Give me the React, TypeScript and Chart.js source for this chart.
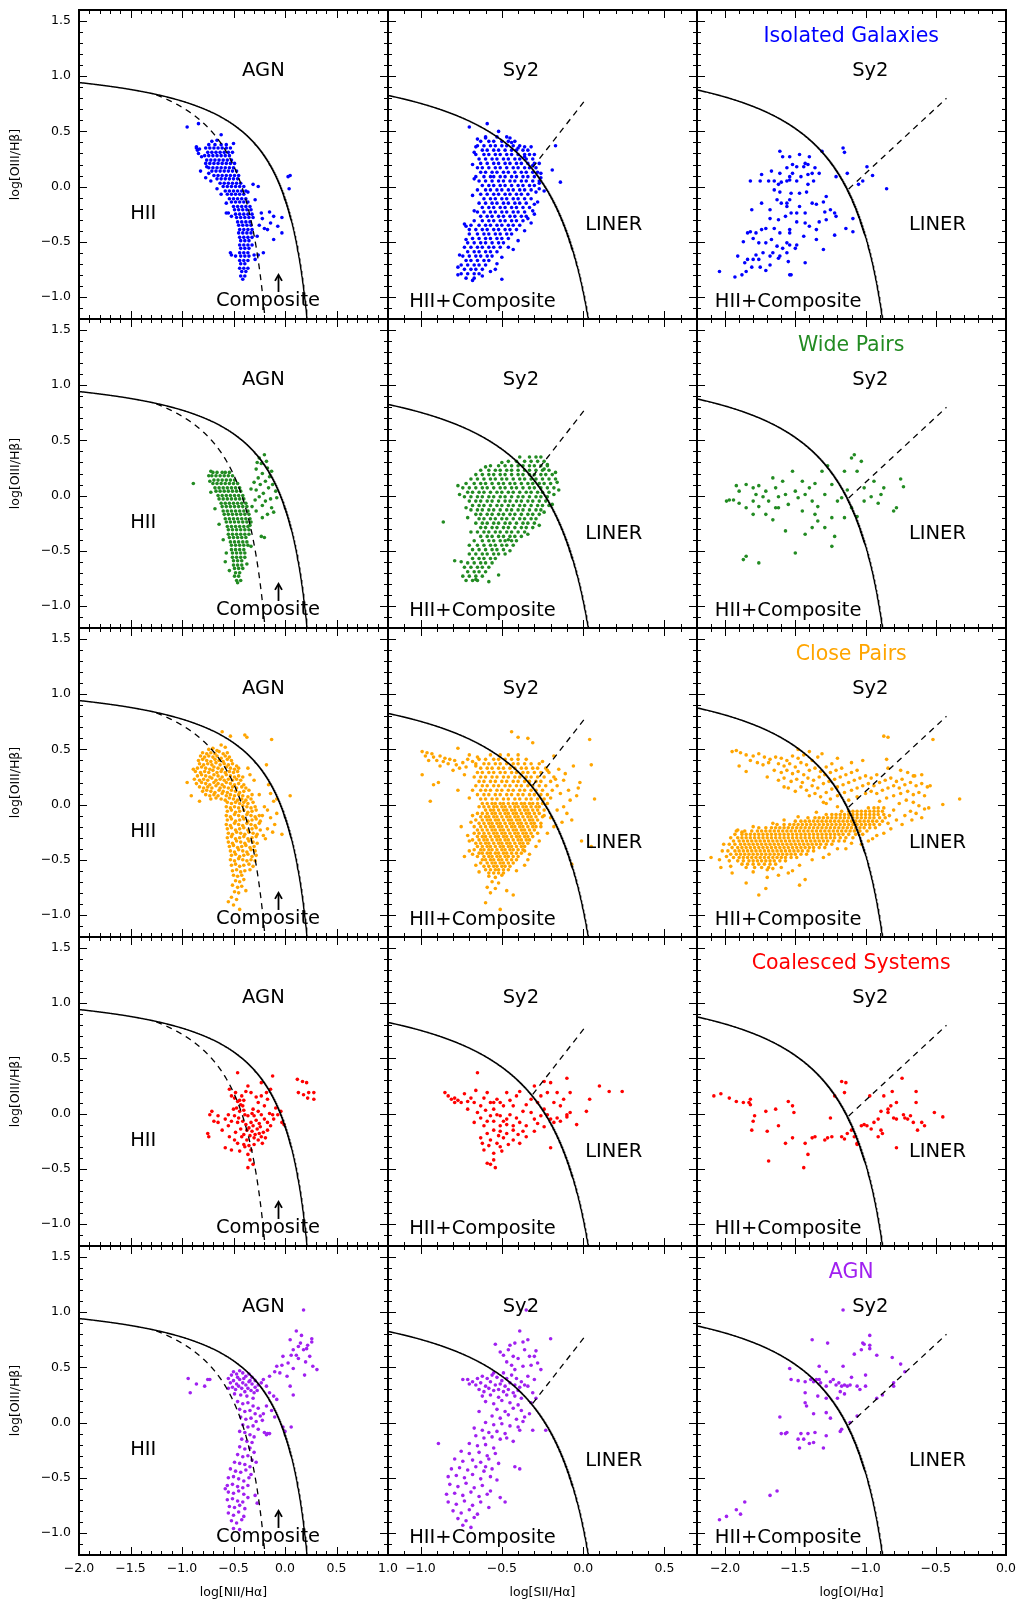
import React, { useEffect, useRef } from 'react';
import { Chart, registerables } from 'chart.js';

Chart.register(...registerables);

// Emission-line ratios.
// *Pts arrays: flat [log x-ratio, log([OIII]/Hb)] pairs in dex.
// *Rows arrays: densely populated strips, [y, x1, x2, ...] in units of 0.01 dex.

// Isolated galaxies
const isoNIIRows = [
  [38,-74,-68,-62,-57], [35,-77,-73,-69,-65,-61,-57,-53], [31,-75,-71,-67,-63,-59,-55,-51],
  [28,-78,-74,-70,-66,-62,-58,-54], [24,-76,-72,-68,-64,-60,-56,-52], [21,-77,-73,-69,-65,-61,-57,-53,-49],
  [17,-74,-70,-66,-62,-58,-54,-50], [14,-71,-67,-63,-59,-55,-51,-47], [10,-69,-65,-61,-57,-53,-49,-45],
  [7,-66,-62,-58,-54,-50,-46], [3,-63,-59,-55,-51,-47,-43], [0,-60,-56,-52,-48,-44,-40],
  [-4,-58,-54,-50,-46,-42,-38], [-7,-56,-52,-48,-44,-40], [-11,-54,-50,-46,-42,-38],
  [-14,-52,-48,-44,-40,-36], [-18,-50,-46,-42,-38,-34], [-21,-49,-45,-41,-37,-33],
  [-25,-48,-44,-40,-36,-32], [-28,-47,-43,-39,-35,-31], [-32,-46,-42,-38,-34],
  [-35,-45,-41,-37,-33], [-39,-44,-40,-36,-32], [-42,-45,-41,-37,-33], [-46,-44,-40,-36,-32],
  [-49,-43,-39,-35], [-53,-44,-40,-36,-32], [-56,-43,-39,-35], [-60,-44,-40,-36], [-63,-43,-39,-35],
  [-67,-44,-40,-36], [-70,-43,-39], [-74,-44,-40,-36], [-77,-42,-38], [-81,-43,-39], [-84,-41],
];
const isoNIIPts = [
  -0.95,0.54, -0.84,0.57, -0.62,0.47, -0.50,0.39, -0.86,0.36, -0.83,0.34, -0.71,0.41, -0.66,0.42,
  -0.81,0.27, -0.84,0.30, -0.74,0.12, -0.72,0.05, -0.76,0.18, -0.62,-0.07, -0.57,-0.15, -0.66,-0.02,
  -0.36,-0.05, -0.52,-0.27, -0.55,-0.24, -0.52,-0.62, -0.30,-0.62,
  -0.31,0.02, -0.26,0.00, -0.29,-0.12, -0.23,-0.24, -0.15,-0.23, -0.11,-0.27, -0.03,-0.28, -0.03,-0.42, -0.11,-0.48, -0.17,-0.39,
  -0.20,-0.38, -0.22,-0.29, -0.21,-0.60, -0.26,-0.62, -0.29,-0.66, -0.27,-0.45, -0.25,-0.35, -0.07,-0.36, 0.03,0.09, 0.05,0.10,
  0.04,-0.02, -0.14,-0.33, -0.86,0.35, -0.85,0.33, -0.82,0.14, -0.77,0.08, -0.57,-0.24, -0.53,-0.60, -0.48,-0.63,
];
const isoSIIRows = [
  [45,-60,-53,-47], [41,-63,-58,-55,-50,-46,-42], [37,-65,-61,-57,-54,-50,-47,-43,-39],
  [33,-62,-59,-55,-52,-48,-44,-41,-37,-34], [29,-66,-61,-58,-54,-51,-47,-44,-40,-36,-33,-30],
  [25,-64,-60,-56,-53,-49,-46,-42,-39,-35,-31], [21,-63,-59,-55,-52,-48,-45,-41,-38,-34,-30,-27],
  [17,-65,-62,-58,-54,-51,-47,-43,-40,-36,-33,-29], [13,-63,-60,-56,-53,-49,-46,-42,-38,-35,-31,-28],
  [9,-66,-61,-57,-55,-51,-48,-44,-41,-37,-34,-30], [5,-64,-60,-56,-52,-49,-45,-42,-38,-35,-31,-27],
  [1,-62,-58,-55,-51,-48,-44,-40,-37,-33,-30], [-3,-65,-60,-57,-53,-50,-46,-43,-39,-36,-32],
  [-7,-63,-59,-55,-52,-48,-45,-41,-38,-34], [-11,-61,-57,-54,-50,-47,-43,-40,-36,-32],
  [-15,-64,-60,-56,-53,-49,-46,-42,-39,-35], [-19,-62,-58,-55,-51,-48,-44,-41,-37,-33],
  [-23,-65,-61,-57,-54,-50,-47,-43,-40,-36], [-27,-63,-59,-56,-52,-49,-45,-42,-38,-35],
  [-31,-67,-62,-58,-55,-51,-48,-44,-41,-37], [-35,-69,-64,-60,-57,-53,-50,-46,-43,-39],
  [-39,-66,-62,-59,-55,-52,-48,-45,-41], [-43,-70,-65,-61,-58,-54,-51,-47,-44],
  [-47,-68,-64,-60,-57,-53,-50,-46], [-51,-71,-67,-63,-60,-56,-52,-49],
  [-55,-73,-69,-65,-62,-58,-55,-51,-46], [-59,-71,-67,-64,-60,-57,-53], [-63,-74,-70,-66,-63,-59,-56],
  [-67,-72,-69,-65,-61,-58], [-71,-75,-71,-67,-64,-60], [-75,-73,-69,-66,-62], [-79,-75,-71,-67,-64],
  [-83,-72,-67],
];
const isoSIIPts = [
  -0.70,0.54, -0.59,0.57, -0.52,0.50, -0.65,0.43, -0.45,0.44, -0.36,0.36, -0.32,0.36, -0.17,0.37,
  -0.19,0.15, -0.14,0.04, -0.26,0.08, -0.24,-0.04, -0.27,-0.02, -0.28,-0.14, -0.30,-0.25, -0.32,-0.33,
  -0.73,-0.34, -0.72,-0.36, -0.50,-0.84, -0.54,-0.75, -0.77,-0.80,
  -0.67,0.31, -0.60,0.44, -0.44,0.40, -0.36,0.27, -0.31,0.19, -0.26,0.12, -0.27,0.03, -0.29,-0.05, -0.30,-0.16, -0.31,-0.22,
  -0.34,-0.29, -0.36,-0.40, -0.40,-0.49, -0.43,-0.57, -0.50,-0.64, -0.53,-0.70, -0.57,-0.77, -0.62,-0.81, -0.68,-0.85, -0.77,-0.73,
  -0.76,-0.62, -0.72,-0.48, -0.70,-0.39, -0.67,-0.22, -0.68,-0.08, -0.67,0.07, -0.68,0.20, -0.66,0.36, -0.40,0.35,
];
const isoOIPts = [
  -1.61,0.32, -1.59,0.27, -1.54,0.27, -1.47,0.29, -1.43,0.21, -1.44,0.18, -1.52,0.20, -1.56,0.17, -1.61,0.12, -1.67,0.14,
  -1.74,0.11, -1.75,0.05, -1.82,0.05, -1.69,0.05, -1.65,0.05, -1.62,0.02, -1.60,0.04, -1.56,0.05, -1.54,0.06, -1.49,0.05,
  -1.46,0.09, -1.41,0.11, -1.36,0.17, -1.37,0.05, -1.41,0.02, -1.42,-0.05, -1.47,-0.06, -1.53,-0.06, -1.54,-0.12, -1.56,-0.15,
  -1.61,-0.05, -1.65,-0.03, -1.63,-0.12, -1.68,-0.21, -1.74,-0.15, -1.81,-0.21, -1.68,-0.29, -1.62,-0.30, -1.57,-0.27, -1.53,-0.24,
  -1.49,-0.24, -1.43,-0.24, -1.38,-0.15, -1.35,-0.16, -1.30,-0.14, -1.29,-0.23, -1.25,-0.21, -1.28,-0.30, -1.33,-0.32, -1.40,-0.36,
  -1.43,-0.33, -1.49,-0.32, -1.54,-0.39, -1.61,-0.42, -1.65,-0.38, -1.71,-0.38, -1.74,-0.39, -1.82,-0.41, -1.84,-0.42, -1.78,-0.42,
  -1.87,-0.50, -1.80,-0.47, -1.76,-0.51, -1.71,-0.51, -1.67,-0.48, -1.63,-0.54, -1.59,-0.56, -1.54,-0.53, -1.49,-0.53, -1.50,-0.56,
  -1.44,-0.45, -1.35,-0.39, -1.35,-0.48, -1.66,-0.60, -1.61,-0.63, -1.56,-0.60, -1.55,-0.68, -1.62,-0.65, -1.68,-0.63, -1.73,-0.60,
  -1.78,-0.62, -1.76,-0.66, -1.80,-0.66, -1.84,-0.66, -1.86,-0.69, -1.91,-0.63, -1.81,-0.73, -1.75,-0.73, -1.71,-0.76, -1.68,-0.71,
  -1.85,-0.77, -1.88,-0.80, -1.93,-0.82, -1.54,-0.80, -1.53,-0.80, -1.43,-0.69, -1.30,-0.57, -1.22,-0.44, -1.14,-0.38, -1.09,-0.41,
  -1.09,-0.29, -1.21,-0.27, -1.54,-0.42, -1.56,-0.51, -1.47,-0.18, -1.56,-0.18, -1.60,-0.15,
  -2.04,-0.77, -1.16,0.35, -1.15,0.31, -1.31,0.32, -1.21,0.09, -1.13,0.12, -1.05,0.02, -1.02,0.05, -0.99,0.18, -0.95,0.10,
  -0.85,-0.02, -1.22,-0.24, -1.28,-0.09, -1.49,0.18, -1.41,0.20, -1.38,0.12, -1.52,0.12, -1.33,0.12, -1.40,0.27, -1.54,0.09,
];

// Wide pairs
const widNIIRows = [
  [21,-70,-66,-61,-58,-54], [18,-71,-67,-63,-59,-55,-51], [14,-69,-65,-61,-57,-53,-49],
  [11,-70,-66,-62,-58,-54,-50,-46], [7,-68,-64,-60,-56,-52,-48,-44], [4,-67,-63,-59,-55,-51,-47,-43],
  [0,-65,-61,-57,-53,-49,-45,-41], [-3,-64,-60,-56,-52,-48,-44,-40], [-7,-62,-58,-54,-50,-46,-42,-38],
  [-10,-61,-57,-53,-49,-45,-41,-37], [-14,-60,-56,-52,-48,-44,-40,-36], [-17,-59,-55,-51,-47,-43,-39,-35],
  [-21,-58,-54,-50,-46,-42,-38,-34], [-24,-57,-53,-49,-45,-41,-37,-33], [-28,-56,-52,-48,-44,-40,-36],
  [-31,-55,-51,-47,-43,-39,-35], [-35,-55,-51,-47,-43,-39,-35], [-38,-54,-50,-46,-42,-38],
  [-42,-53,-49,-45,-41,-37], [-45,-52,-48,-44,-40,-36], [-49,-52,-48,-44,-40], [-52,-51,-47,-43,-39],
  [-56,-51,-47,-43,-39], [-59,-50,-46,-42], [-63,-50,-46,-42], [-66,-49,-45,-41], [-70,-48,-44],
  [-73,-49,-45], [-77,-47,-43],
];
const widNIIPts = [
  -0.25,0.34, -0.20,0.37, -0.18,0.31, -0.23,0.29, -0.28,0.24, -0.13,0.22, -0.17,0.25, -0.22,0.20, -0.26,0.16, -0.15,0.17,
  -0.19,0.13, -0.30,0.12, -0.24,0.10, -0.16,0.07, -0.09,0.04, -0.33,0.06, -0.28,0.05, -0.21,0.02, -0.25,-0.01, -0.19,-0.05,
  -0.14,-0.03, -0.29,-0.04, -0.13,-0.11, -0.22,-0.09, -0.28,-0.14, -0.17,-0.17, -0.11,-0.15, -0.22,-0.20, -0.32,-0.10, -0.08,-0.02,
  -0.12,0.10, -0.27,0.30, -0.89,0.11, -0.72,0.22, -0.23,-0.37, -0.20,-0.38, -0.74,0.18, -0.58,-0.60, -0.46,-0.79,
  -0.73,0.13, -0.72,0.03, -0.68,-0.12, -0.64,-0.26, -0.60,-0.40, -0.57,-0.52, -0.54,-0.68, -0.34,-0.27, -0.33,-0.46, -0.37,-0.62,
];
const widSIIRows = [
  [35,-39,-33,-29,-26], [31,-46,-41,-36,-32,-28,-24], [27,-57,-52,-48,-44,-40,-37,-33,-30,-26,-22],
  [23,-63,-58,-54,-51,-47,-44,-40,-36,-33,-29,-25,-21],
  [19,-66,-62,-58,-55,-51,-48,-44,-40,-37,-33,-30,-26,-23,-19],
  [15,-69,-65,-61,-57,-54,-50,-47,-43,-39,-36,-32,-29,-25,-21,-17],
  [11,-72,-67,-63,-60,-56,-52,-49,-45,-42,-38,-34,-31,-27,-24,-20],
  [7,-74,-70,-66,-62,-59,-55,-51,-48,-44,-41,-37,-33,-30,-26,-22,-18],
  [3,-71,-68,-64,-61,-57,-53,-50,-46,-43,-39,-35,-32,-28,-25,-21],
  [-1,-73,-69,-65,-62,-58,-55,-51,-48,-44,-40,-37,-33,-29,-26,-22],
  [-5,-70,-66,-63,-59,-56,-52,-48,-45,-41,-38,-34,-31,-27,-23],
  [-9,-68,-64,-61,-57,-53,-50,-46,-43,-39,-36,-32,-28,-25,-21],
  [-13,-69,-65,-62,-58,-55,-51,-47,-44,-40,-37,-33,-29,-26],
  [-17,-66,-63,-59,-56,-52,-49,-45,-42,-38,-34,-31,-27],
  [-21,-64,-61,-57,-54,-50,-47,-43,-39,-36,-32,-29],
  [-25,-66,-62,-59,-55,-52,-48,-45,-41,-37,-34,-30],
  [-29,-63,-60,-56,-53,-49,-46,-42,-38,-35,-31],
  [-33,-65,-61,-58,-54,-51,-47,-44,-40,-36], [-37,-63,-59,-56,-52,-49,-45,-42,-38],
  [-41,-67,-62,-58,-55,-51,-48,-44,-41], [-45,-65,-61,-57,-54,-50,-47,-43],
  [-49,-68,-64,-60,-56,-53,-49], [-53,-70,-66,-62,-59,-55,-52,-48], [-57,-68,-64,-61,-57,-54],
  [-61,-71,-67,-63,-60,-56], [-65,-73,-69,-65,-62,-58], [-69,-71,-67,-64,-60], [-73,-74,-70,-66,-62],
  [-77,-72,-68,-65],
];
const widSIIPts = [
  -0.22,0.28, -0.24,0.24, -0.17,0.21, -0.16,0.12, -0.15,0.05, -0.75,-0.60, -0.79,-0.59, -0.86,-0.24, -0.77,0.09, -0.76,0.01,
  -0.72,-0.11, -0.71,-0.20, -0.69,-0.33, -0.70,-0.45, -0.45,-0.50, -0.46,-0.40, -0.34,-0.35, -0.27,-0.27, -0.24,-0.15, -0.19,-0.08,
  -0.18,0.01, -0.60,0.26, -0.50,0.30, -0.52,-0.72, -0.58,-0.78, -0.66,-0.76,
];
const widOIPts = [
  -1.92,0.09, -1.85,0.10, -1.80,0.07, -1.76,0.09, -1.78,0.01, -1.94,-0.04, -1.90,-0.07, -1.85,-0.11, -1.80,-0.05, -1.73,-0.01,
  -1.71,0.04, -1.66,0.16, -1.64,0.07, -1.62,-0.01, -1.69,-0.05, -1.76,-0.10, -1.80,-0.17, -1.71,-0.17, -1.66,-0.22, -1.62,-0.11,
  -1.57,0.01, -1.52,0.22, -1.50,0.04, -1.48,-0.02, -1.55,-0.08, -1.45,-0.14, -1.43,0.01, -1.38,-0.05, -1.40,0.07, -1.57,-0.32,
  -1.43,-0.35, -1.50,-0.52, -1.85,-0.55, -1.87,-0.58, -1.76,-0.61, -1.36,-0.17, -1.34,-0.10, -1.29,0.01, -1.31,0.22, -1.27,0.27,
  -1.24,0.10, -1.20,-0.05, -1.24,-0.20, -1.29,-0.29, -1.22,-0.37, -1.24,-0.46, -1.17,-0.02, -1.13,0.05, -1.15,0.22, -1.10,0.34,
  -1.08,0.37, -1.03,0.31, -1.06,0.22, -1.01,0.07, -0.96,-0.01, -1.01,-0.05, -1.10,-0.11, -1.15,-0.20, -1.06,-0.19, -0.94,0.13,
  -0.89,0.01, -0.87,0.07, -0.75,0.15, -0.73,0.08, -0.78,-0.11, -0.80,-0.14, -0.91,-0.07, -1.64,-0.11, -1.59,0.13, -1.90,0.04,
  -1.97,-0.04, -1.99,-0.05, -1.36,0.11, -1.45,0.13, -1.38,-0.29, -1.34,-0.23,
];

// Close pairs
const clsNIIPts = [
  -0.74,0.50, -0.70,0.51, -0.66,0.49, -0.58,0.52, -0.62,0.54,
  -0.80,0.47, -0.76,0.46, -0.72,0.47, -0.68,0.46, -0.64,0.48, -0.60,0.46, -0.56,0.47,
  -0.82,0.44, -0.78,0.43, -0.74,0.44, -0.70,0.43, -0.66,0.44, -0.62,0.42, -0.58,0.44, -0.54,0.43,
  -0.84,0.40, -0.80,0.41, -0.76,0.40, -0.72,0.39, -0.68,0.41, -0.64,0.40, -0.60,0.39, -0.56,0.41, -0.52,0.40,
  -0.83,0.37, -0.79,0.36, -0.75,0.37, -0.71,0.36, -0.67,0.38, -0.63,0.36, -0.59,0.37, -0.55,0.36, -0.51,0.37, -0.47,0.35,
  -0.85,0.33, -0.81,0.34, -0.77,0.33, -0.73,0.32, -0.69,0.34, -0.65,0.33, -0.61,0.32, -0.57,0.34, -0.53,0.33, -0.49,0.32, -0.45,0.33,
  -0.87,0.30, -0.82,0.29, -0.78,0.30, -0.74,0.29, -0.70,0.31, -0.66,0.29, -0.62,0.30, -0.58,0.29, -0.54,0.30, -0.50,0.29, -0.46,0.30,
  -0.85,0.26, -0.81,0.27, -0.77,0.26, -0.73,0.25, -0.69,0.27, -0.65,0.26, -0.61,0.25, -0.57,0.27, -0.53,0.26, -0.49,0.25, -0.45,0.26, -0.41,0.25,
  -0.88,0.23, -0.83,0.22, -0.79,0.23, -0.75,0.22, -0.71,0.24, -0.67,0.22, -0.63,0.23, -0.59,0.22, -0.55,0.23, -0.51,0.22, -0.47,0.23, -0.43,0.22,
  -0.86,0.19, -0.81,0.20, -0.77,0.19, -0.73,0.18, -0.69,0.20, -0.65,0.19, -0.61,0.18, -0.57,0.20, -0.53,0.19, -0.49,0.18, -0.45,0.19, -0.40,0.18,
  -0.83,0.16, -0.79,0.15, -0.75,0.16, -0.71,0.15, -0.67,0.17, -0.63,0.15, -0.59,0.16, -0.55,0.15, -0.51,0.16, -0.47,0.15, -0.42,0.16, -0.38,0.15,
  -0.80,0.12, -0.76,0.13, -0.72,0.12, -0.68,0.11, -0.64,0.13, -0.60,0.12, -0.56,0.11, -0.52,0.13, -0.48,0.12, -0.44,0.11, -0.40,0.12, -0.35,0.13,
  -0.77,0.09, -0.73,0.08, -0.69,0.09, -0.65,0.08, -0.61,0.10, -0.57,0.08, -0.53,0.09, -0.49,0.08, -0.45,0.09, -0.41,0.08, -0.36,0.07, -0.32,0.09,
  -0.72,0.05, -0.67,0.06, -0.62,0.05, -0.58,0.04, -0.54,0.06, -0.50,0.05, -0.46,0.04, -0.42,0.05, -0.38,0.04, -0.33,0.05,
  -0.56,0.02, -0.52,0.01, -0.48,0.02, -0.44,0.01, -0.40,0.02, -0.36,0.01, -0.31,0.02,
  -0.57,-0.02, -0.53,-0.03, -0.49,-0.02, -0.45,-0.03, -0.41,-0.01, -0.37,-0.02, -0.33,-0.03, -0.29,-0.02,
  -0.56,-0.06, -0.52,-0.05, -0.48,-0.07, -0.44,-0.06, -0.40,-0.05, -0.36,-0.07, -0.32,-0.06, -0.28,-0.05,
  -0.57,-0.10, -0.53,-0.11, -0.49,-0.09, -0.45,-0.10, -0.41,-0.11, -0.37,-0.09, -0.33,-0.10, -0.29,-0.11, -0.25,-0.10,
  -0.56,-0.14, -0.52,-0.13, -0.48,-0.15, -0.44,-0.14, -0.40,-0.13, -0.36,-0.15, -0.32,-0.14, -0.28,-0.13, -0.24,-0.15,
  -0.57,-0.18, -0.53,-0.19, -0.49,-0.17, -0.45,-0.18, -0.41,-0.19, -0.37,-0.17, -0.33,-0.18, -0.29,-0.19, -0.25,-0.17,
  -0.56,-0.22, -0.52,-0.21, -0.48,-0.23, -0.44,-0.22, -0.40,-0.21, -0.36,-0.23, -0.32,-0.22, -0.28,-0.21, -0.24,-0.23,
  -0.55,-0.26, -0.51,-0.27, -0.47,-0.25, -0.43,-0.26, -0.39,-0.27, -0.35,-0.25, -0.31,-0.26, -0.27,-0.27,
  -0.56,-0.30, -0.52,-0.29, -0.48,-0.31, -0.44,-0.30, -0.40,-0.29, -0.36,-0.31, -0.32,-0.30, -0.28,-0.29,
  -0.55,-0.34, -0.51,-0.35, -0.47,-0.33, -0.43,-0.34, -0.39,-0.35, -0.35,-0.33, -0.31,-0.34, -0.27,-0.35,
  -0.54,-0.38, -0.50,-0.37, -0.46,-0.39, -0.42,-0.38, -0.38,-0.37, -0.34,-0.39, -0.30,-0.38,
  -0.53,-0.42, -0.49,-0.43, -0.45,-0.41, -0.41,-0.42, -0.37,-0.43, -0.33,-0.41, -0.29,-0.42,
  -0.52,-0.46, -0.48,-0.45, -0.44,-0.47, -0.40,-0.46, -0.36,-0.45, -0.32,-0.47, -0.28,-0.46,
  -0.53,-0.50, -0.49,-0.51, -0.45,-0.49, -0.41,-0.50, -0.37,-0.51, -0.33,-0.50, -0.29,-0.51,
  -0.52,-0.55, -0.48,-0.54, -0.44,-0.56, -0.40,-0.55, -0.35,-0.54, -0.31,-0.56,
  -0.51,-0.60, -0.47,-0.59, -0.43,-0.61, -0.39,-0.60, -0.34,-0.59,
  -0.50,-0.64, -0.46,-0.65, -0.42,-0.64, -0.48,-0.69, -0.44,-0.70, -0.40,-0.68, -0.51,-0.73, -0.46,-0.75, -0.42,-0.74, -0.49,-0.79,
  -0.45,-0.80, -0.52,-0.84, -0.47,-0.86, -0.50,-0.91, -0.44,-0.95, -0.55,-0.88, -0.38,-0.78,
  -0.61,0.66, -0.53,0.62, -0.39,0.63, -0.37,0.61, -0.13,0.59, -0.18,0.36, -0.16,0.18, -0.11,0.03, -0.08,0.05, -0.03,-0.27,
  0.05,0.08, -0.95,0.20, -0.91,0.08, -0.83,0.03, -0.20,-0.02, -0.22,-0.10, -0.17,-0.22, -0.14,0.10, -0.25,0.09, -0.30,0.22,
  -0.34,0.27, -0.36,0.33, -0.21,-0.28, -0.89,0.32, -0.17,-0.05, -0.14,-0.12, -0.10,-0.18, -0.12,-0.25, -0.19,-0.31, -0.08,-0.08,
];
const clsSIIRows = [
  [45,-57,-51,-46,-40], [41,-64,-60,-55,-52,-48,-44,-40,-35],
  [37,-66,-61,-58,-54,-51,-47,-43,-40,-36,-32,-27],
  [33,-63,-59,-56,-52,-49,-45,-42,-38,-35,-31,-28,-23],
  [29,-65,-62,-58,-55,-51,-48,-44,-41,-37,-34,-30,-26,-21],
  [25,-67,-63,-60,-56,-53,-49,-46,-42,-39,-35,-32,-28,-24,-18],
  [21,-64,-61,-57,-54,-50,-47,-43,-40,-36,-33,-29,-26,-20],
  [17,-66,-62,-59,-55,-52,-48,-45,-41,-38,-34,-31,-27,-23,-16],
  [13,-68,-63,-60,-57,-53,-50,-46,-43,-39,-36,-32,-29,-25,-19],
  [9,-65,-61,-58,-54,-51,-47,-44,-40,-37,-33,-30,-26,-22],
  [5,-63,-60,-56,-53,-49,-46,-42,-39,-35,-32,-28,-24],
  [1,-62,-59,-56,-54,-51,-49,-46,-43,-41,-38,-36,-33,-31,-28,-25,-22],
  [-2,-64,-61,-58,-55,-53,-50,-48,-45,-42,-40,-37,-35,-32,-29,-27],
  [-5,-60,-57,-55,-52,-49,-47,-44,-42,-39,-36,-34,-31,-28,-24],
  [-8,-65,-62,-59,-56,-54,-51,-48,-46,-43,-41,-38,-35,-33,-30,-27],
  [-11,-63,-60,-58,-55,-53,-50,-47,-45,-42,-40,-37,-34,-32,-29,-25],
  [-14,-66,-62,-59,-57,-54,-52,-49,-46,-44,-41,-39,-36,-33,-31,-28],
  [-17,-64,-61,-58,-56,-53,-51,-48,-45,-43,-40,-38,-35,-32,-30,-26],
  [-20,-67,-63,-60,-57,-55,-52,-50,-47,-44,-42,-39,-37,-34,-31,-29],
  [-23,-65,-62,-59,-56,-54,-51,-49,-46,-43,-41,-38,-36,-33,-30],
  [-26,-67,-64,-61,-58,-55,-53,-50,-48,-45,-42,-40,-37,-35,-32,-28],
  [-29,-65,-62,-60,-57,-54,-52,-49,-47,-44,-41,-39,-36,-34,-31],
  [-32,-68,-64,-61,-59,-56,-53,-51,-48,-46,-43,-40,-38,-35,-33],
  [-35,-66,-63,-60,-58,-55,-52,-50,-47,-45,-42,-39,-37,-34],
  [-38,-65,-62,-59,-57,-54,-51,-49,-46,-44,-41,-38,-36],
  [-41,-67,-63,-61,-58,-56,-53,-50,-48,-45,-43,-40,-37],
  [-44,-64,-62,-59,-57,-54,-52,-49,-47,-44,-41,-38],
  [-47,-65,-61,-58,-56,-53,-51,-48,-46,-43,-40],
  [-50,-62,-60,-57,-55,-52,-50,-47,-44,-41],
  [-53,-63,-59,-56,-54,-51,-49,-46,-43],
  [-56,-61,-58,-55,-53,-50,-48,-45],
  [-59,-60,-57,-54,-52,-49,-46],
  [-62,-58,-55,-52,-49],
];
const clsSIIPts = [
  -0.99,0.48, -0.96,0.47, -0.93,0.46, -0.97,0.44, -0.92,0.43, -0.88,0.44, -0.85,0.42, -0.90,0.40, -0.86,0.39, -0.82,0.41,
  -0.79,0.40, -0.83,0.37, -0.78,0.36, -0.74,0.38, -0.71,0.41, -0.68,0.39, -0.76,0.33, -0.72,0.34, -0.66,0.35, -0.80,0.31,
  -0.99,0.27, -0.94,0.03, -0.92,0.18, -0.89,0.20, -0.77,0.51, -0.70,0.45, -0.95,0.40, -0.88,0.35, -0.73,0.27, -0.65,0.43,
  -0.58,-0.65, -0.54,-0.66, -0.50,-0.64, -0.56,-0.70, -0.52,-0.71, -0.59,-0.75, -0.54,-0.76, -0.57,-0.80, -0.60,-0.89, -0.51,-0.95,
  -0.47,-0.78, -0.43,-0.82,
  -0.06,0.35, 0.05,0.36, 0.04,0.59, 0.07,0.05, -0.02,0.20, -0.08,0.04, -0.10,-0.08, -0.07,-0.14, -0.01,-0.33, 0.05,-0.38,
  -0.07,-0.54, -0.18,0.44, -0.31,0.56, -0.40,0.61, -0.34,0.60, -0.44,0.66, -0.12,0.22, -0.14,0.10, -0.09,0.13, -0.04,0.08,
  -0.12,-0.02, -0.16,-0.05, -0.20,-0.12, -0.13,-0.16, -0.22,-0.26, -0.18,-0.20, -0.03,0.15, -0.15,0.32, -0.25,0.39, -0.11,0.28,
  -0.75,-0.20, -0.70,0.06, -0.77,0.13, -0.73,-0.47, -0.70,-0.42, -0.68,-0.10, -0.71,-0.28, -0.34,-0.50, -0.36,-0.42,
  -0.69,-0.16, -0.70,-0.33, -0.68,-0.45, -0.66,-0.55, -0.27,-0.33, -0.29,-0.38, -0.33,-0.45, -0.36,-0.55, -0.41,-0.60, -0.64,-0.61,
  -0.26,-0.20, -0.24,-0.10, -0.20,0.06, -0.17,0.23, -0.22,0.31,
];
const clsOIRows = [
  [-3,-98,-94,-91,-87],
  [-6,-117,-112,-109,-106,-103,-100,-97,-94,-91,-88],
  [-9,-128,-124,-121,-118,-115,-112,-109,-106,-103,-100,-97,-94,-91,-87],
  [-12,-141,-136,-133,-130,-127,-124,-121,-118,-115,-112,-109,-106,-103,-100,-97,-94,-90,-86],
  [-15,-150,-146,-143,-140,-137,-134,-131,-128,-125,-122,-119,-116,-113,-110,-107,-104,-101,-98,-95,-92,-88],
  [-18,-163,-158,-154,-151,-148,-145,-142,-139,-136,-133,-130,-127,-124,-121,-118,-115,-112,-109,-106,-103,-100,-97,-94,-90],
  [-21,-176,-171,-167,-164,-161,-158,-155,-152,-149,-146,-143,-140,-137,-134,-131,-128,-125,-122,-119,-116,-113,-110,-107,-104,-101,-97,-93],
  [-24,-186,-181,-177,-174,-171,-168,-165,-162,-159,-156,-153,-150,-147,-144,-141,-138,-135,-132,-129,-126,-123,-120,-117,-114,-111,-108,-104,-99],
  [-27,-193,-188,-185,-182,-179,-176,-173,-170,-167,-164,-161,-158,-155,-152,-149,-146,-143,-140,-137,-134,-131,-128,-125,-122,-119,-116,-112,-107,-102],
  [-30,-196,-191,-188,-185,-182,-179,-176,-173,-170,-167,-164,-161,-158,-155,-152,-149,-146,-143,-140,-137,-134,-131,-128,-125,-122,-118,-114,-109],
  [-33,-194,-190,-187,-184,-181,-178,-175,-172,-169,-166,-163,-160,-157,-154,-151,-148,-145,-142,-139,-136,-133,-130,-127,-123,-119,-115],
  [-36,-197,-193,-189,-186,-183,-180,-177,-174,-171,-168,-165,-162,-159,-156,-153,-150,-147,-144,-141,-138,-135,-132,-128,-124],
  [-39,-195,-191,-188,-185,-182,-179,-176,-173,-170,-167,-164,-161,-158,-155,-152,-149,-146,-143,-140,-137,-133,-129],
  [-42,-198,-193,-190,-187,-184,-181,-178,-175,-172,-169,-166,-163,-160,-157,-154,-151,-148,-145,-141,-137],
  [-45,-196,-192,-189,-186,-183,-180,-177,-174,-171,-168,-165,-162,-159,-156,-153,-150,-146,-142],
  [-48,-194,-190,-187,-184,-181,-178,-175,-172,-169,-166,-163,-160,-157,-153,-149],
  [-51,-191,-187,-183,-180,-177,-174,-171,-168,-165,-161,-157],
  [-54,-188,-184,-180,-176,-172,-168,-164],
  [-57,-185,-179,-174,-169],
];
const clsOIPts = [
  -1.95,0.48, -1.92,0.49, -1.89,0.47, -1.85,0.45, -1.80,0.44, -1.76,0.46, -1.72,0.43, -1.68,0.41, -1.64,0.43, -1.90,0.35,
  -1.82,0.40, -1.77,0.38, -1.73,0.36, -1.69,0.38, -1.60,0.42, -1.56,0.40, -1.52,0.44, -1.48,0.42, -1.44,0.45, -1.40,0.48,
  -1.62,0.37, -1.58,0.35, -1.54,0.37, -1.50,0.34, -1.46,0.38, -1.42,0.36, -1.38,0.40, -1.34,0.43, -1.65,0.31, -1.60,0.29,
  -1.56,0.31, -1.52,0.28, -1.48,0.30, -1.44,0.27, -1.40,0.31, -1.36,0.33, -1.32,0.30, -1.28,0.34, -1.24,0.37, -1.62,0.22,
  -1.58,0.24, -1.53,0.21, -1.49,0.23, -1.45,0.20, -1.41,0.24, -1.37,0.22, -1.33,0.25, -1.29,0.27, -1.25,0.29, -1.21,0.31,
  -1.17,0.33, -1.55,0.15, -1.50,0.12, -1.46,0.16, -1.42,0.13, -1.38,0.17, -1.34,0.15, -1.30,0.19, -1.26,0.21, -1.22,0.23,
  -1.18,0.25, -1.14,0.27, -1.10,0.29, -1.06,0.31, -1.40,0.08, -1.36,0.10, -1.32,0.07, -1.28,0.11, -1.24,0.14, -1.20,0.16,
  -1.16,0.18, -1.12,0.20, -1.08,0.22, -1.04,0.24, -1.00,0.26, -0.96,0.24, -0.92,0.27, -1.30,0.02, -1.25,0.05, -1.20,0.08,
  -1.15,0.11, -1.10,0.13, -1.06,0.15, -1.02,0.17, -0.98,0.19, -0.94,0.17, -0.90,0.20, -0.86,0.22, -0.82,0.24, -0.78,0.21,
  -0.74,0.23, -0.70,0.29, -0.66,0.26, -1.12,0.04, -1.06,0.07, -1.00,0.10, -0.96,0.12, -0.92,0.10, -0.88,0.13, -0.84,0.15,
  -0.80,0.17, -0.76,0.15, -0.72,0.18, -0.68,0.20, -0.64,0.17, -0.60,0.19, -0.56,0.16, -0.90,0.03, -0.85,0.06, -0.80,0.08,
  -0.75,0.10, -0.70,0.12, -0.66,0.09, -0.62,0.11, -0.58,0.08, -0.54,0.17, -0.76,0.01, -0.71,0.04, -0.66,0.02, -0.62,-0.01,
  -0.58,-0.04, -0.64,-0.08, -0.60,-0.12, -0.68,-0.06, -0.72,-0.10, -0.78,-0.14, -0.74,-0.18, -0.55,-0.03, -0.65,0.26, -0.75,0.31,
  -0.84,0.33, -0.87,0.62, -0.84,0.61, -0.52,0.59, -0.33,0.05, -0.45,0.00, -0.60,0.27, -0.67,-0.14, -0.85,0.41, -1.02,0.40,
  -1.10,0.38, -1.20,0.42, -1.31,0.46, -1.48,0.50, -1.70,0.25, -1.85,0.30, -1.58,0.16, -1.28,0.01,
  -1.76,-0.82, -1.71,-0.76, -1.85,-0.71, -1.43,-0.68, -1.47,-0.73, -2.03,-0.57, -2.10,-0.48, -2.04,-0.50, -1.97,-0.51, -1.91,-0.23,
  -1.88,-0.25, -1.62,-0.64, -1.55,-0.62, -1.95,-0.62, -1.30,-0.48, -1.20,-0.40, -1.10,-0.35, -0.98,-0.33, -0.92,-0.28, -0.82,-0.22,
  -0.80,-0.05, -1.70,-0.59, -1.66,-0.58, -1.47,-0.55,
  -1.20,-0.02, -1.35,-0.07, -1.48,-0.11, -1.58,-0.14, -1.66,-0.17, -1.80,-0.20, -1.92,-0.24, -2.01,-0.36, -2.02,-0.42, -1.99,-0.47,
  -1.96,-0.56, -1.80,-0.61, -1.60,-0.57, -1.38,-0.50, -1.26,-0.45, -1.14,-0.40, -1.03,-0.36, -0.95,-0.31, -0.87,-0.26, -0.84,-0.17,
  -0.83,-0.10, -1.52,-0.60, -1.70,-0.66,
];

// Coalesced systems
const coaNIIPts = [
  -0.46,0.37, -0.54,0.22, -0.52,0.16, -0.49,0.14, -0.46,0.11, -0.42,0.16, -0.41,0.07, -0.44,0.02, -0.39,-0.01, -0.50,0.04,
  -0.55,-0.01, -0.58,-0.05, -0.65,-0.02, -0.71,0.02, -0.73,-0.01, -0.69,-0.07, -0.75,-0.18, -0.74,-0.21, -0.58,-0.31, -0.52,-0.33,
  -0.46,-0.27, -0.42,-0.21, -0.37,-0.15, -0.33,-0.08, -0.30,-0.02, -0.26,0.02, -0.23,-0.01, -0.20,-0.05, -0.17,-0.08, -0.14,-0.11,
  -0.11,-0.05, -0.07,-0.01, -0.04,0.02, -0.03,-0.08, -0.01,-0.10, -0.17,-0.15, -0.23,-0.21, -0.26,-0.24, -0.30,-0.28, -0.33,-0.33,
  -0.36,-0.37, -0.34,-0.42, -0.36,-0.49, -0.31,-0.46, -0.39,-0.30, -0.44,-0.34, -0.49,-0.24, -0.54,-0.21, -0.61,-0.15, -0.65,-0.08,
  -0.55,-0.11, -0.46,-0.08, -0.36,-0.02, -0.31,0.04, -0.26,0.10, -0.20,0.07, -0.17,0.13, -0.23,0.16, -0.18,0.19, -0.14,0.22,
  -0.12,0.34, -0.23,0.28, -0.33,0.19, -0.36,0.25,
  -0.40,0.12, -0.43,0.08, -0.47,0.05, -0.45,-0.04, -0.41,-0.07, -0.38,-0.10, -0.35,-0.13, -0.32,-0.16, -0.29,-0.19, -0.27,-0.14,
  -0.24,-0.12, -0.21,-0.17, -0.19,-0.22, -0.28,-0.06, -0.25,-0.09, -0.31,-0.11, -0.34,-0.20, -0.37,-0.24, -0.40,-0.19, -0.43,-0.14,
  -0.49,-0.02, -0.52,-0.07, -0.48,-0.17, -0.40,-0.28, -0.35,-0.29, -0.30,-0.22, -0.22,-0.27, -0.25,-0.18, -0.32,0.00, -0.40,0.03,
  -0.44,0.12, -0.48,0.19, -0.38,0.20, -0.28,0.15, -0.12,-0.01, -0.09,0.05, -0.15,0.00,
  0.12,0.31, 0.17,0.29, 0.21,0.28, 0.13,0.19, 0.18,0.17, 0.23,0.19, 0.28,0.13, 0.28,0.19, 0.22,0.14,
];
const coaSIIPts = [
  -0.85,0.19, -0.83,0.16, -0.79,0.14, -0.75,0.10, -0.71,0.11, -0.67,0.10, -0.65,0.37, -0.61,0.14, -0.59,0.19, -0.57,0.10,
  -0.55,0.04, -0.53,-0.01, -0.51,-0.02, -0.49,-0.07, -0.47,-0.10, -0.55,-0.15, -0.59,-0.18, -0.57,-0.24, -0.53,-0.27, -0.51,-0.30,
  -0.49,-0.22, -0.47,-0.18, -0.43,-0.15, -0.39,-0.08, -0.35,-0.11, -0.30,-0.05, -0.26,-0.02, -0.22,-0.01, -0.20,-0.05, -0.18,-0.08,
  -0.16,-0.04, -0.14,-0.07, -0.10,-0.01, -0.08,0.01, -0.04,-0.10, -0.22,0.19, -0.26,0.16, -0.30,0.25, -0.24,0.29, -0.10,0.32,
  -0.16,0.19, -0.12,0.13, -0.08,0.19, -0.20,0.28, -0.39,0.20, -0.47,0.19, -0.51,0.10, -0.43,0.07, -0.35,0.08, -0.37,0.02,
  -0.45,-0.01, -0.61,-0.33, -0.55,-0.42, -0.57,-0.46, -0.54,-0.49, -0.59,-0.45, -0.55,-0.36, -0.50,-0.34, -0.43,-0.24, -0.39,-0.27,
  -0.35,-0.21, -0.30,-0.16, -0.20,-0.31, 0.04,0.13, 0.02,0.02, 0.10,0.25, 0.16,0.20, 0.24,0.20, -0.71,0.04, -0.79,0.10,
  -0.81,0.13, -0.69,0.14, -0.63,0.07, -0.55,0.10, -0.49,0.07, -0.41,0.16, -0.32,0.13, -0.28,0.10, -0.18,0.10, -0.14,0.07,
  -0.24,0.04, -0.32,0.01, -0.41,-0.04, -0.47,-0.05, -0.51,-0.11, -0.43,-0.11, -0.37,-0.16, -0.51,-0.16, -0.55,-0.07, -0.63,-0.04,
  -0.59,-0.07, -0.61,-0.11, -0.67,-0.08, -0.63,-0.22, -0.57,-0.02, -0.60,0.03, -0.65,0.01, -0.53,0.13, -0.45,0.12, -0.58,-0.29,
  -0.62,-0.27, -0.52,-0.20, -0.46,-0.28, -0.40,-0.19, -0.28,-0.09, -0.24,-0.12, -0.10,-0.03, -0.66,0.21, -0.73,0.18, -0.77,0.12,
];
const coaOIPts = [
  -2.08,0.16, -2.03,0.18, -1.97,0.14, -1.92,0.11, -1.87,0.10, -1.83,0.10, -1.82,0.13, -1.82,0.08, -1.79,-0.02, -1.80,-0.07,
  -1.81,-0.15, -1.71,0.02, -1.70,-0.16, -1.69,-0.43, -1.64,0.04, -1.62,-0.11, -1.55,0.11, -1.52,0.07, -1.51,0.01, -1.57,-0.27,
  -1.52,-0.22, -1.43,-0.27, -1.41,-0.37, -1.44,-0.49, -1.38,-0.22, -1.36,-0.21, -1.29,-0.24, -1.27,-0.22, -1.24,-0.21, -1.25,-0.04,
  -1.22,0.16, -1.17,0.29, -1.14,0.28, -1.15,0.19, -1.17,-0.21, -1.15,-0.23, -1.13,-0.18, -1.10,-0.15, -1.08,-0.21, -1.06,-0.27,
  -1.06,-0.28, -1.03,-0.11, -1.01,-0.10, -0.99,-0.11, -0.97,0.16, -0.96,-0.14, -0.94,-0.08, -0.91,-0.05, -0.89,0.02, -0.89,-0.15,
  -0.91,-0.21, -0.88,-0.18, -0.87,0.16, -0.84,0.04, -0.84,0.01, -0.82,0.07, -0.81,0.20, -0.80,-0.04, -0.78,-0.05, -0.78,0.10,
  -0.74,0.32, -0.73,-0.01, -0.72,-0.04, -0.70,-0.05, -0.68,-0.02, -0.66,-0.08, -0.64,0.20, -0.64,0.10, -0.63,-0.15, -0.60,-0.08,
  -0.58,-0.11, -0.51,0.01, -0.45,-0.03, -0.78,-0.31,
];

// AGN
const agnNIIPts = [
  -0.94,0.40, -0.92,0.27, -0.78,0.33, -0.75,0.39, -0.73,0.39, -0.86,0.35,
  -0.55,0.40, -0.52,0.43, -0.50,0.46, -0.47,0.44, -0.44,0.47, -0.41,0.45, -0.38,0.42, -0.35,0.44, -0.32,0.41, -0.29,0.38,
  -0.53,0.36, -0.50,0.38, -0.47,0.35, -0.44,0.39, -0.41,0.36, -0.38,0.34, -0.35,0.37, -0.32,0.35, -0.29,0.32, -0.26,0.34,
  -0.23,0.36, -0.51,0.32, -0.48,0.30, -0.45,0.33, -0.42,0.31, -0.39,0.28, -0.36,0.31, -0.33,0.29, -0.30,0.27, -0.27,0.29,
  -0.55,0.31, -0.49,0.26, -0.43,0.25, -0.37,0.24, -0.31,0.22, -0.46,0.41, -0.40,0.40, -0.34,0.38,
  -0.46,0.19, -0.41,0.17, -0.36,0.18, -0.31,0.15, -0.26,0.13, -0.44,0.12, -0.39,0.10, -0.34,0.11, -0.29,0.08, -0.24,0.06,
  -0.43,0.05, -0.38,0.03, -0.33,0.04, -0.28,0.01, -0.22,0.02, -0.41,-0.02, -0.36,-0.04, -0.31,-0.03, -0.26,-0.06, -0.20,-0.09, -0.17,-0.10,
  -0.44,-0.08, -0.39,-0.09, -0.34,-0.11, -0.30,-0.13, -0.42,-0.15, -0.37,-0.17, -0.32,-0.18, -0.44,-0.22, -0.39,-0.24, -0.34,-0.23,
  -0.30,-0.27, -0.46,-0.29, -0.41,-0.31, -0.36,-0.30, -0.32,-0.34, -0.49,-0.36, -0.44,-0.37, -0.39,-0.38, -0.34,-0.40, -0.28,-0.36,
  -0.53,-0.42, -0.48,-0.44, -0.43,-0.45, -0.38,-0.43, -0.33,-0.47, -0.55,-0.50, -0.50,-0.49, -0.45,-0.51, -0.40,-0.53, -0.35,-0.50,
  -0.56,-0.57, -0.51,-0.56, -0.46,-0.58, -0.41,-0.59, -0.36,-0.57, -0.55,-0.63, -0.50,-0.64, -0.45,-0.62, -0.40,-0.65, -0.56,-0.70,
  -0.51,-0.69, -0.46,-0.71, -0.41,-0.72, -0.36,-0.68, -0.54,-0.76, -0.49,-0.77, -0.44,-0.75, -0.39,-0.78, -0.55,-0.82, -0.50,-0.84,
  -0.45,-0.81, -0.40,-0.85, -0.52,-0.89, -0.47,-0.91, -0.42,-0.88, -0.50,-0.96, -0.44,-0.97, -0.58,-0.60, -0.29,-0.66, -0.27,-0.73,
  0.18,1.02, 0.11,0.83, 0.16,0.79, 0.26,0.76, 0.26,0.73, 0.05,0.75, 0.08,0.66, 0.13,0.69, 0.15,0.72, 0.18,0.66,
  0.21,0.67, 0.11,0.61, 0.06,0.61, -0.02,0.60, -0.03,0.52, 0.24,0.60, 0.27,0.51, 0.31,0.48, 0.19,0.43, 0.08,0.49,
  0.03,0.54, -0.08,0.51, -0.10,0.46, -0.05,0.45, 0.02,0.42, 0.05,0.33, 0.08,0.25, 0.06,-0.04, 0.00,-0.08, -0.02,-0.04,
  -0.15,-0.10, -0.18,-0.11, -0.15,0.42, -0.21,0.39, -0.18,0.33, -0.15,0.27, -0.11,0.24, -0.08,0.21, -0.18,0.15, -0.21,0.08,
  -0.13,0.11, -0.10,0.05, 0.13,0.58, 0.22,0.70, 0.20,0.55,
];
const agnSIIPts = [
  -0.35,1.02, -0.39,0.83, -0.20,0.76, -0.34,0.75, -0.37,0.73, -0.42,0.72, -0.45,0.70, -0.54,0.71, -0.46,0.66, -0.49,0.61,
  -0.43,0.60, -0.40,0.58, -0.36,0.66, -0.33,0.60, -0.30,0.60, -0.29,0.65, -0.28,0.54, -0.32,0.52, -0.37,0.51, -0.42,0.48,
  -0.34,0.42, -0.30,0.39, -0.34,0.33, -0.31,0.27, -0.29,0.22, -0.32,0.18, -0.33,0.08, -0.36,0.05, -0.37,0.01, -0.40,-0.04,
  -0.39,-0.07, -0.31,-0.07, -0.23,-0.07, -0.43,-0.17, -0.42,-0.40, -0.39,-0.42, -0.47,0.55, -0.51,0.64, -0.26,0.48, -0.44,0.52,
  -0.74,0.39, -0.71,0.39, -0.68,0.37, -0.65,0.40, -0.62,0.42, -0.59,0.40, -0.56,0.43, -0.53,0.41, -0.50,0.38, -0.47,0.40,
  -0.44,0.43, -0.41,0.40, -0.38,0.37, -0.66,0.34, -0.63,0.36, -0.60,0.33, -0.57,0.37, -0.54,0.34, -0.51,0.35, -0.48,0.33,
  -0.45,0.36, -0.42,0.34, -0.39,0.32, -0.36,0.34, -0.64,0.30, -0.61,0.28, -0.58,0.31, -0.55,0.29, -0.52,0.30, -0.49,0.28,
  -0.46,0.30, -0.43,0.27, -0.40,0.29, -0.62,0.24, -0.57,0.25, -0.52,0.23, -0.47,0.25, -0.42,0.24, -0.38,0.22, -0.70,0.35,
  -0.55,0.45, -0.49,0.45,
  -0.60,0.19, -0.55,0.17, -0.50,0.20, -0.45,0.18, -0.40,0.16, -0.53,0.12, -0.48,0.10, -0.43,0.13, -0.38,0.11, -0.56,0.06,
  -0.51,0.04, -0.46,0.07, -0.41,0.03, -0.60,0.00, -0.55,-0.02, -0.50,-0.01, -0.45,-0.03, -0.62,-0.07, -0.58,-0.09, -0.53,-0.08,
  -0.48,-0.10, -0.66,-0.12, -0.61,-0.14, -0.56,-0.13, -0.51,-0.15, -0.47,-0.14, -0.67,-0.05, -0.64,0.10,
  -0.70,-0.19, -0.65,-0.21, -0.60,-0.20, -0.55,-0.23, -0.75,-0.26, -0.70,-0.28, -0.64,-0.27, -0.59,-0.30, -0.54,-0.28, -0.79,-0.33,
  -0.74,-0.35, -0.68,-0.34, -0.63,-0.36, -0.58,-0.33, -0.52,-0.37, -0.81,-0.42, -0.76,-0.41, -0.71,-0.43, -0.66,-0.40, -0.61,-0.44,
  -0.56,-0.42, -0.83,-0.49, -0.78,-0.48, -0.73,-0.50, -0.68,-0.47, -0.63,-0.51, -0.57,-0.49, -0.53,-0.52, -0.82,-0.56, -0.77,-0.58,
  -0.72,-0.55, -0.67,-0.59, -0.62,-0.57, -0.57,-0.62, -0.84,-0.65, -0.79,-0.64, -0.74,-0.66, -0.69,-0.63, -0.64,-0.67, -0.59,-0.65,
  -0.83,-0.72, -0.78,-0.74, -0.73,-0.71, -0.68,-0.75, -0.63,-0.72, -0.58,-0.77, -0.80,-0.80, -0.75,-0.82, -0.70,-0.79, -0.65,-0.83,
  -0.77,-0.87, -0.72,-0.89, -0.67,-0.86, -0.74,-0.93, -0.69,-0.95, -0.89,-0.19, -0.51,-0.68, -0.48,-0.72, -0.60,-0.40,
];
const agnOIPts = [
  -1.16,1.02, -1.38,0.75, -1.27,0.72, -0.97,0.79, -1.02,0.72, -1.01,0.71, -0.97,0.70, -1.03,0.66, -0.97,0.67, -1.08,0.62,
  -0.92,0.61, -0.81,0.59, -0.75,0.53, -0.72,0.46, -0.80,0.36, -0.80,0.33, -0.88,0.25, -0.92,0.22, -1.06,0.06, -1.11,0.00,
  -1.17,-0.06, -1.18,-0.08, -1.54,0.49, -1.33,0.51, -1.28,0.46, -1.16,0.51, -1.10,0.41, -1.00,0.43, -1.53,0.39, -1.48,0.38,
  -1.43,0.37, -1.39,0.39, -1.37,0.37, -1.35,0.39, -1.33,0.39, -1.32,0.36, -1.28,0.33, -1.25,0.37, -1.23,0.39, -1.21,0.34,
  -1.19,0.36, -1.17,0.33, -1.15,0.34, -1.13,0.33, -1.11,0.34, -1.06,0.33, -1.04,0.30, -1.00,0.33, -1.18,0.28, -1.15,0.26,
  -1.43,0.27, -1.34,0.24, -1.28,0.22, -1.20,0.22, -1.43,0.18, -1.42,0.15, -1.37,0.08, -1.28,0.09, -1.25,0.04, -1.61,0.05,
  -1.60,-0.10, -1.57,-0.10, -1.56,-0.09, -1.46,-0.10, -1.41,-0.10, -1.36,-0.09, -1.48,-0.15, -1.44,-0.15, -1.47,-0.23, -1.40,-0.19,
  -1.37,-0.18, -1.30,-0.23, -1.28,-0.12, -1.68,-0.66, -1.63,-0.62, -1.86,-0.72, -1.92,-0.79, -1.89,-0.83, -1.99,-0.85, -2.04,-0.88,
];

// Panel layout: rows = samples, columns = diagnostics
const groupNames = ['Isolated Galaxies', 'Wide Pairs', 'Close Pairs', 'Coalesced Systems', 'AGN'];
const groupColors = ['#0000ff', '#228b22', '#ffa500', '#ff0000', '#a020f0'];
const noRows: number[][] = [];
const groupPts = [
  [isoNIIPts, isoSIIPts, isoOIPts],
  [widNIIPts, widSIIPts, widOIPts],
  [clsNIIPts, clsSIIPts, clsOIPts],
  [coaNIIPts, coaSIIPts, coaOIPts],
  [agnNIIPts, agnSIIPts, agnOIPts],
];
const groupRows = [
  [isoNIIRows, isoSIIRows, noRows],
  [widNIIRows, widSIIRows, noRows],
  [noRows, clsSIIRows, clsOIRows],
  [noRows, noRows, noRows],
  [noRows, noRows, noRows],
];

const xRanges = [[-2.0, 1.0], [-1.2, 0.7], [-2.2, 0.0]];
const yRange = [-1.2, 1.6];
const xTickLabels = [
  [-2.0, -1.5, -1.0, -0.5, 0.0, 0.5, 1.0],
  [-1.0, -0.5, 0.0, 0.5],
  [-2.0, -1.5, -1.0, -0.5, 0.0],
];
const yTickLabels = [-1.0, -0.5, 0.0, 0.5, 1.0, 1.5];
const xTitles = ['log[NII/H\u03b1]', 'log[SII/H\u03b1]', 'log[OI/H\u03b1]'];
const yTitle = 'log[OIII/H\u03b2]';

// Region names per diagnostic and where they sit (data units)
const regionNames = [
  ['AGN', 'HII', 'Composite'],
  ['Sy2', 'LINER', 'HII+Composite'],
  ['Sy2', 'LINER', 'HII+Composite'],
];
const regionAnchors = [
  [[-0.21, 1.05], [-1.376, -0.246], [-0.165, -1.04]],
  [[-0.383, 1.045], [0.188, -0.352], [-0.619, -1.047]],
  [[-0.966, 1.052], [-0.488, -0.352], [-1.551, -1.047]],
];
const groupTitleAnchor = [-1.102, 1.354];
const compositeArrow = [-0.065, -0.955, -0.80];

// Demarcation curves y = a / (x - b) + c  (Kewley 2001, Kauffmann 2003)
const kewleyNII = [0.61, 0.47, 1.19];
const kauffmannNII = [0.61, 0.05, 1.30];
const kewleySII = [0.72, 0.32, 1.30];
const kewleyOI = [0.73, -0.59, 1.33];
// Seyfert / LINER lines y = m x + q between x0 and x1 (Kewley 2006)
const seyLinerSII = [1.89, 0.76, -0.31, 0.021];
const seyLinerOI = [1.18, 1.30, -1.12, -0.424];

const PANEL = 309;
const FIG_LEFT = 79;
const FIG_TOP = 10;
const FONT = '"DejaVu Sans", "Liberation Sans", sans-serif';

function pairsToXY(flat: number[]) {
  const out: { x: number; y: number }[] = [];
  for (let i = 0; i + 1 < flat.length; i += 2) out.push({ x: flat[i], y: flat[i + 1] });
  return out;
}

function rowsToXY(rows: number[][]) {
  const out: { x: number; y: number }[] = [];
  rows.forEach((row) => {
    const y = row[0] / 100;
    for (let i = 1; i < row.length; i++) out.push({ x: row[i] / 100, y });
  });
  return out;
}

function hyperbola(coef: number[], xStart: number, yMin: number) {
  const [a, b, c] = coef;
  const xEnd = b + a / (yMin - c);
  const pts: { x: number; y: number }[] = [];
  const n = 700;
  for (let i = 0; i <= n; i++) {
    const x = xStart + ((xEnd - xStart) * i) / n;
    pts.push({ x, y: i === n ? yMin : a / (x - b) + c });
  }
  return pts;
}

function straight(line: number[]) {
  const [m, q, x0, x1] = line;
  return [{ x: x0, y: m * x0 + q }, { x: x1, y: m * x1 + q }];
}

const fmtTick = (v: number) => (v < 0 ? '\u2212' : '') + Math.abs(v).toFixed(1);

function Panel({ row, col }: { row: number; col: number }) {
  const ref = useRef<HTMLCanvasElement | null>(null);
  const ml = col === 0 ? FIG_LEFT : 4;
  const mt = 4;
  const mr = 12;
  const mb = row === 4 ? 49 : 4;
  const w = ml + PANEL + mr;
  const h = mt + PANEL + mb;
  const left = FIG_LEFT + col * PANEL - ml;
  const top = FIG_TOP + row * PANEL - mt;

  useEffect(() => {
    const canvas = ref.current;
    if (!canvas) return;
    const color = groupColors[row];
    const yMin = yRange[0];
    const [xMin, xMax] = xRanges[col];

    let solid: { x: number; y: number }[];
    let dashed: { x: number; y: number }[];
    if (col === 0) {
      solid = hyperbola(kewleyNII, xMin, yMin);
      dashed = hyperbola(kauffmannNII, -1.25, yMin);
    } else if (col === 1) {
      solid = hyperbola(kewleySII, xMin, yMin);
      dashed = straight(seyLinerSII);
    } else {
      solid = hyperbola(kewleyOI, xMin, yMin);
      dashed = straight(seyLinerOI);
    }

    const points = rowsToXY(groupRows[row][col]).concat(pairsToXY(groupPts[row][col]));

    const decor = {
      id: 'panelDecor',
      afterDatasetsDraw(chart: any) {
        const { ctx, chartArea: a, scales } = chart;
        const xs = scales.x;
        const ys = scales.y;
        ctx.save();
        ctx.strokeStyle = '#000';
        ctx.lineWidth = 1;
        // inward ticks, minor every 0.1, major every 0.5
        for (let k = Math.ceil(xMin * 10 - 1e-6); k <= Math.floor(xMax * 10 + 1e-6); k++) {
          const px = Math.round(xs.getPixelForValue(k / 10)) + 0.5;
          const len = k % 5 === 0 ? 8 : 4;
          ctx.beginPath();
          ctx.moveTo(px, a.bottom);
          ctx.lineTo(px, a.bottom - len);
          ctx.moveTo(px, a.top);
          ctx.lineTo(px, a.top + len);
          ctx.stroke();
        }
        for (let k = Math.ceil(yRange[0] * 10 - 1e-6); k <= Math.floor(yRange[1] * 10 + 1e-6); k++) {
          const py = Math.round(ys.getPixelForValue(k / 10)) + 0.5;
          const len = k % 5 === 0 ? 8 : 4;
          ctx.beginPath();
          ctx.moveTo(a.left, py);
          ctx.lineTo(a.left + len, py);
          ctx.moveTo(a.right, py);
          ctx.lineTo(a.right - len, py);
          ctx.stroke();
        }
        ctx.lineWidth = 2;
        ctx.strokeRect(a.left, a.top, a.right - a.left, a.bottom - a.top);

        // region names
        ctx.fillStyle = '#000';
        ctx.textAlign = 'center';
        ctx.textBaseline = 'middle';
        ctx.font = `19.5px ${FONT}`;
        regionNames[col].forEach((txt, i) => {
          const [dx, dy] = regionAnchors[col][i];
          ctx.fillText(txt, xs.getPixelForValue(dx), ys.getPixelForValue(dy));
        });

        if (col === 0) {
          const ax = Math.round(xs.getPixelForValue(compositeArrow[0])) + 0.5;
          const yb = ys.getPixelForValue(compositeArrow[1]);
          const yt = ys.getPixelForValue(compositeArrow[2]);
          ctx.lineWidth = 1.8;
          ctx.beginPath();
          ctx.moveTo(ax, yb);
          ctx.lineTo(ax, yt + 1);
          ctx.stroke();
          ctx.beginPath();
          ctx.moveTo(ax - 3.5, yt + 6);
          ctx.lineTo(ax, yt);
          ctx.lineTo(ax + 3.5, yt + 6);
          ctx.stroke();

          ctx.save();
          ctx.font = `12.5px ${FONT}`;
          ctx.translate(16, (a.top + a.bottom) / 2);
          ctx.rotate(-Math.PI / 2);
          ctx.fillText(yTitle, 0, 0);
          ctx.restore();
        }

        if (col === 2) {
          ctx.fillStyle = color;
          ctx.font = `20.5px ${FONT}`;
          ctx.fillText(
            groupNames[row],
            xs.getPixelForValue(groupTitleAnchor[0]),
            ys.getPixelForValue(groupTitleAnchor[1]),
          );
        }

        if (row === 4) {
          ctx.fillStyle = '#000';
          ctx.font = `12.5px ${FONT}`;
          ctx.fillText(xTitles[col], (a.left + a.right) / 2, a.bottom + 38);
        }
        ctx.restore();
      },
    };

    const tickFont = { family: FONT, size: 12.5 };

    const chart = new Chart(canvas, {
      type: 'scatter',
      data: {
        datasets: [
          {
            data: solid,
            showLine: true,
            borderColor: '#000',
            borderWidth: 1.4,
            pointRadius: 0,
            order: 0,
          },
          {
            data: dashed,
            showLine: true,
            borderColor: '#000',
            borderWidth: 1.3,
            borderDash: [6, 5],
            pointRadius: 0,
            order: 0,
          },
          {
            data: points,
            backgroundColor: color,
            borderColor: color,
            pointRadius: 1.8,
            pointBorderWidth: 0,
            pointHoverRadius: 1.8,
            order: 1,
          },
        ] as any,
      },
      options: {
        responsive: false,
        maintainAspectRatio: false,
        animation: false,
        devicePixelRatio: 1,
        events: [],
        layout: { padding: { left: 0, top: mt, right: mr, bottom: 0 } },
        plugins: { legend: { display: false }, tooltip: { enabled: false } },
        scales: {
          x: {
            type: 'linear',
            position: 'bottom',
            min: xMin,
            max: xMax,
            grid: { display: false, drawTicks: false },
            border: { display: false },
            ticks: {
              display: row === 4,
              autoSkip: false,
              maxRotation: 0,
              minRotation: 0,
              padding: 6,
              color: '#000',
              font: tickFont,
              callback: (v: any) => fmtTick(Number(v)),
            },
            afterBuildTicks: (s: any) => {
              s.ticks = xTickLabels[col].map((v) => ({ value: v }));
            },
            afterFit: (s: any) => {
              s.height = mb;
              s.paddingLeft = 0;
              s.paddingRight = 0;
              s.paddingTop = 0;
              s.paddingBottom = 0;
            },
          },
          y: {
            type: 'linear',
            position: 'left',
            min: yRange[0],
            max: yRange[1],
            grid: { display: false, drawTicks: false },
            border: { display: false },
            ticks: {
              display: col === 0,
              autoSkip: false,
              padding: 8,
              color: '#000',
              font: tickFont,
              callback: (v: any) => fmtTick(Number(v)),
            },
            afterBuildTicks: (s: any) => {
              s.ticks = yTickLabels.map((v) => ({ value: v }));
            },
            afterFit: (s: any) => {
              s.width = ml;
              s.paddingLeft = 0;
              s.paddingRight = 0;
              s.paddingTop = 0;
              s.paddingBottom = 0;
            },
          },
        },
      } as any,
      plugins: [decor],
    });
    return () => chart.destroy();
  }, [row, col, ml, mb]);

  return (
    <canvas
      ref={ref}
      width={w}
      height={h}
      style={{ position: 'absolute', left, top, width: w, height: h }}
    />
  );
}

export default function App() {
  const cells: React.ReactNode[] = [];
  for (let r = 0; r < 5; r++) {
    for (let c = 0; c < 3; c++) cells.push(<Panel key={`${r}-${c}`} row={r} col={c} />);
  }
  return (
    <div
      style={{
        position: 'absolute',
        left: 0,
        top: 0,
        width: 1017,
        height: 1604,
        background: '#fff',
        overflow: 'hidden',
      }}
    >
      {cells}
    </div>
  );
}
